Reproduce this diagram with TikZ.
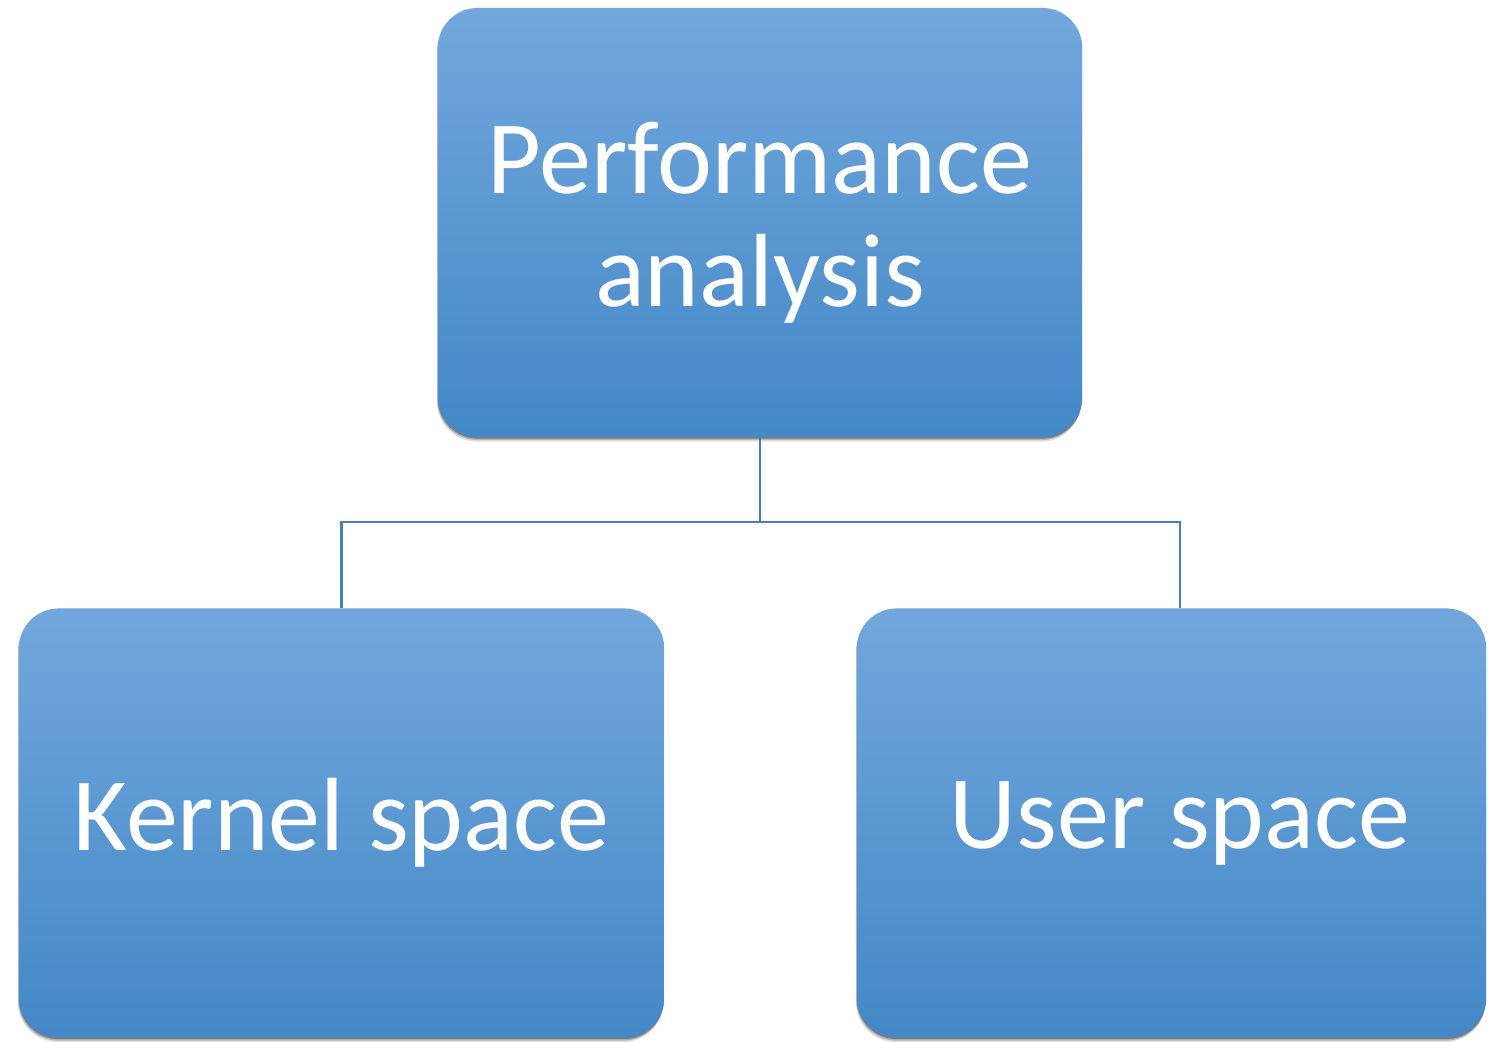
\documentclass[tikz,border=0pt]{standalone}
\usepackage{fontspec}
\setmainfont{Carlito}
\usetikzlibrary{shadows}
\definecolor{boxtop}{HTML}{72A7DC}
\definecolor{boxmid}{HTML}{5A9DDE}
\definecolor{boxbot}{HTML}{4388C7}
\definecolor{linkblue}{HTML}{4A7EBB}
\tikzset{
  boxfont/.style={text=white, font=\fontsize{29.6pt}{32pt}\selectfont, align=center},
  box/.style={rectangle, rounded corners=0.4cm, inner sep=0pt,
    top color=boxtop, middle color=boxmid, bottom color=boxbot, boxfont,
    drop shadow={shadow xshift=-0.01cm, shadow yshift=-0.045cm, opacity=0.12, fill=black},
    drop shadow={shadow xshift=-0.005cm, shadow yshift=-0.03cm, opacity=0.2, fill=black},
    drop shadow={shadow xshift=0pt, shadow yshift=-0.015cm, opacity=0.3, fill=black}},
  link/.style={draw=linkblue, line width=0.7pt}
}
\begin{document}
\begin{tikzpicture}[x=0.01cm, y=-0.01cm]
  \fill[white] (0,0) rectangle (1488,1041);
  \useasboundingbox (0,0) rectangle (1488,1041);
  \coordinate (fork) at (760,522);
  % boxes
  \node[box, minimum width=6.44cm, minimum height=4.29cm] (perf) at (760,222.5) {Performance\\analysis};
  \node[box, minimum width=6.45cm, minimum height=4.29cm] (kernel) at (341.5,823) {Kernel space};
  \node[box, minimum width=6.29cm, minimum height=4.29cm] (user) at (1171.5,823) {};
  \node[boxfont] (userlabel) at (1180,823) {User space};
  % tree connectors
  \draw[link] (perf.south) -- (fork);
  \draw[link] (fork) -| (kernel.north);
  \draw[link] (fork) -| (userlabel.north |- user.north);
\end{tikzpicture}
\end{document}
